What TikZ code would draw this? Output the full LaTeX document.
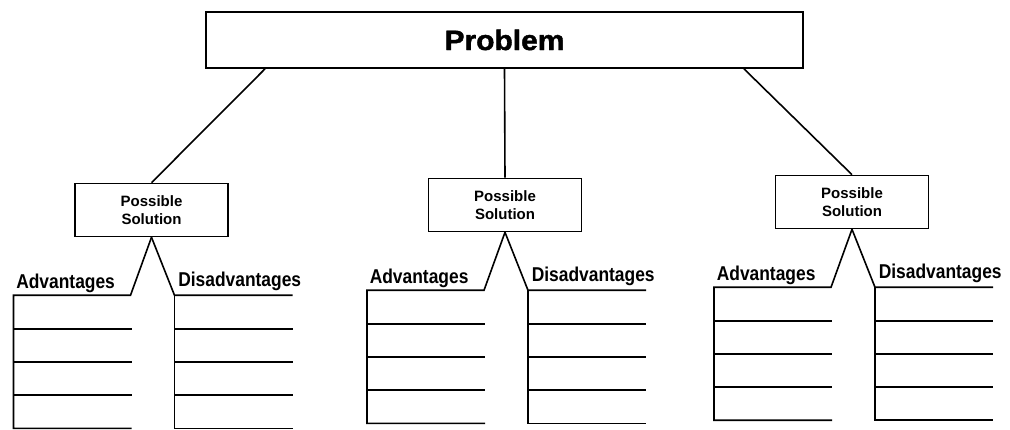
\documentclass[tikz,border=0pt]{standalone}
\usepackage{fontspec}
\setmainfont{Liberation Sans}
\newfontfamily\narrowfont[FakeStretch=0.87]{Liberation Sans}
\newfontfamily\heavyfont[FakeStretch=1.07, FakeBold=1.5]{Liberation Sans}
\usetikzlibrary{calc}
\tikzset{
  probbox/.style={draw, line width=1.6pt, minimum width=597pt, minimum height=56pt, inner sep=0pt,
    font=\heavyfont\bfseries\fontsize{28}{30}\selectfont},
  solbox/.style={draw, line width=1.6pt, minimum width=153pt, minimum height=53pt, inner sep=0pt,
    align=center, font=\bfseries\fontsize{15}{18}\selectfont},
  colhead/.style={inner sep=0pt, anchor=base west, font=\narrowfont\bfseries\fontsize{20}{22}\selectfont},
}
\begin{document}
\begin{tikzpicture}[x=1pt, y=-1pt, line width=1.6pt]
  \useasboundingbox (0,0) rectangle (1010,430);
  \node[probbox] (prob) at (504.5,40) {Problem};
  \node[solbox] (sol1) at (151.5,210) {Possible\\Solution};
  \node[solbox] (sol2) at (505,205) {Possible\\Solution};
  \node[solbox] (sol3) at (852,202) {Possible\\Solution};
  % branches from the problem
  \draw ($(prob.south west)!0.1!(prob.south east)$) -- (sol1.north);
  \draw (prob.south) -- (sol2.north);
  \draw ($(prob.south west)!0.9!(prob.south east)$) -- (sol3.north);
  % pros and cons under each solution
  \foreach \s in {sol1, sol2, sol3} {
    \begin{scope}[shift={(\s.south)}]
      \node[colhead] (\s-adv) at (-136,51) {Advantages};
      \node[colhead] (\s-dis) at (26,49) {Disadvantages};
      \draw (\s.south) -- (-21,58) -- (-138,58) -- (-138,191) -- (-20,191);
      \draw (\s.south) -- (23,58) -- (141,58);
      \draw (23,58) -- (23,191) -- (141,191);
      \foreach \y in {92,125,158} {
        \draw (-138,\y) -- (-20,\y);
        \draw (23,\y) -- (141,\y);
      }
    \end{scope}
  }
\end{tikzpicture}
\end{document}
